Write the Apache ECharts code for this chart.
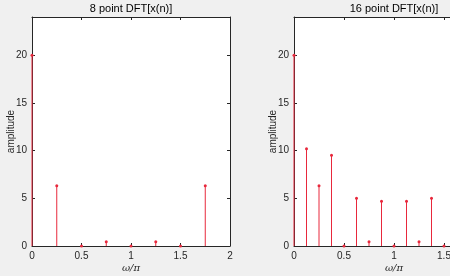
<!DOCTYPE html>
<html><head><meta charset="utf-8">
<script src="https://cdn.jsdelivr.net/npm/echarts@6/dist/echarts.min.js"></script>
<style>html,body{margin:0;padding:0;background:#f0f0f0}#c{width:450px;height:276px}</style>
</head><body><div id="c"></div>
<script>
// 8-point DFT magnitudes, k = 0..7, omega/pi = 2k/8
const freq8 = [0, 0.25, 0.5, 0.75, 1, 1.25, 1.5, 1.75];
const mag8 = [20, 6.31, 0, 0.45, 0, 0.45, 0, 6.31];
// 16-point DFT magnitudes, k = 0..15, omega/pi = 2k/16
const freq16 = [0, 0.125, 0.25, 0.375, 0.5, 0.625, 0.75, 0.875, 1, 1.125, 1.25, 1.375, 1.5, 1.625, 1.75, 1.875];
const mag16 = [20, 10.2, 6.31, 9.5, 0, 5.0, 0.45, 4.7, 0, 4.7, 0.45, 5.0, 0, 9.5, 6.31, 10.2];
const titles = ['8 point DFT[x(n)]', '16 point DFT[x(n)]'];
const xTicks = [0, 0.5, 1, 1.5, 2];
const yTicks = [0, 5, 10, 15, 20];

const AX = '#262626';
const RED = '#e8283c';
const FONT = 'Liberation Sans';

const grids = [
  {left: 32, right: 220, top: 17, bottom: 30},
  {left: 294, right: -44, top: 17, bottom: 30}
];

function xAx(gi, pos, labels) {
  return {type: 'value', gridIndex: gi, position: pos, min: 0, max: 2, interval: 0.5,
    name: labels ? 'ω/π' : '', nameLocation: 'middle', nameGap: 17, nameMoveOverlap: false,
    nameTextStyle: {color: AX, fontFamily: 'DejaVu Serif', fontStyle: 'italic', fontSize: 10},
    axisLine: {show: true, onZero: false, lineStyle: {color: AX, width: 1}},
    axisTick: {show: true, inside: true, length: 3, lineStyle: {color: AX}},
    axisLabel: {show: labels, color: AX, fontFamily: FONT, fontSize: 10, margin: 5,
      hideOverlap: false,
      formatter: v => xTicks.indexOf(v) >= 0 ? String(v) : ''},
    splitLine: {show: false}};
}
function yAx(gi, pos, labels) {
  return {type: 'value', gridIndex: gi, position: pos, min: 0, max: 24, interval: 5,
    name: labels ? 'amplitude' : '', nameLocation: 'middle', nameGap: 16, nameRotate: 90,
    nameMoveOverlap: false,
    nameTextStyle: {color: AX, fontFamily: FONT, fontSize: 10},
    axisLine: {show: true, onZero: false, lineStyle: {color: AX, width: 1}},
    axisTick: {show: true, inside: true, length: 3, lineStyle: {color: AX},
      customValues: yTicks},
    axisLabel: {show: labels, color: AX, fontFamily: FONT, fontSize: 10, margin: 5,
      customValues: yTicks},
    splitLine: {show: false}};
}

function stemSeries(gi, xs, ys) {
  return {type: 'custom', xAxisIndex: gi * 2, yAxisIndex: gi * 2, z: 5,
    data: xs.map((x, i) => [x, ys[i]]),
    clip: false,
    renderItem: function (params, api) {
      const p0 = api.coord([api.value(0), 0]);
      const p1 = api.coord([api.value(0), api.value(1)]);
      return {type: 'group', children: [
        {type: 'line', shape: {x1: p0[0], y1: p0[1], x2: p1[0], y2: p1[1]},
          style: {stroke: RED, lineWidth: 1}},
        {type: 'circle', shape: {cx: p1[0], cy: p1[1], r: 1.5},
          style: {fill: RED, stroke: null}}
      ]};
    }};
}

const chart = echarts.init(document.getElementById('c'), null, {renderer: 'canvas'});
chart.setOption({
  backgroundColor: '#f0f0f0',
  animation: false,
  graphic: titles.map((t, i) => ({type: 'text', x: [131, 394][i], y: 3,
    style: {text: t, fill: '#000', font: '11px "Liberation Sans"', textAlign: 'center', textVerticalAlign: 'top'}})),
  grid: grids.map(g => Object.assign({show: true, backgroundColor: '#fff', borderWidth: 0,
    containLabel: false, outerBoundsMode: 'none'}, g)),
  xAxis: [xAx(0, 'bottom', true), xAx(0, 'top', false), xAx(1, 'bottom', true), xAx(1, 'top', false)],
  yAxis: [yAx(0, 'left', true), yAx(0, 'right', false), yAx(1, 'left', true), yAx(1, 'right', false)],
  series: [stemSeries(0, freq8, mag8), stemSeries(1, freq16, mag16)]
});
</script></body></html>
